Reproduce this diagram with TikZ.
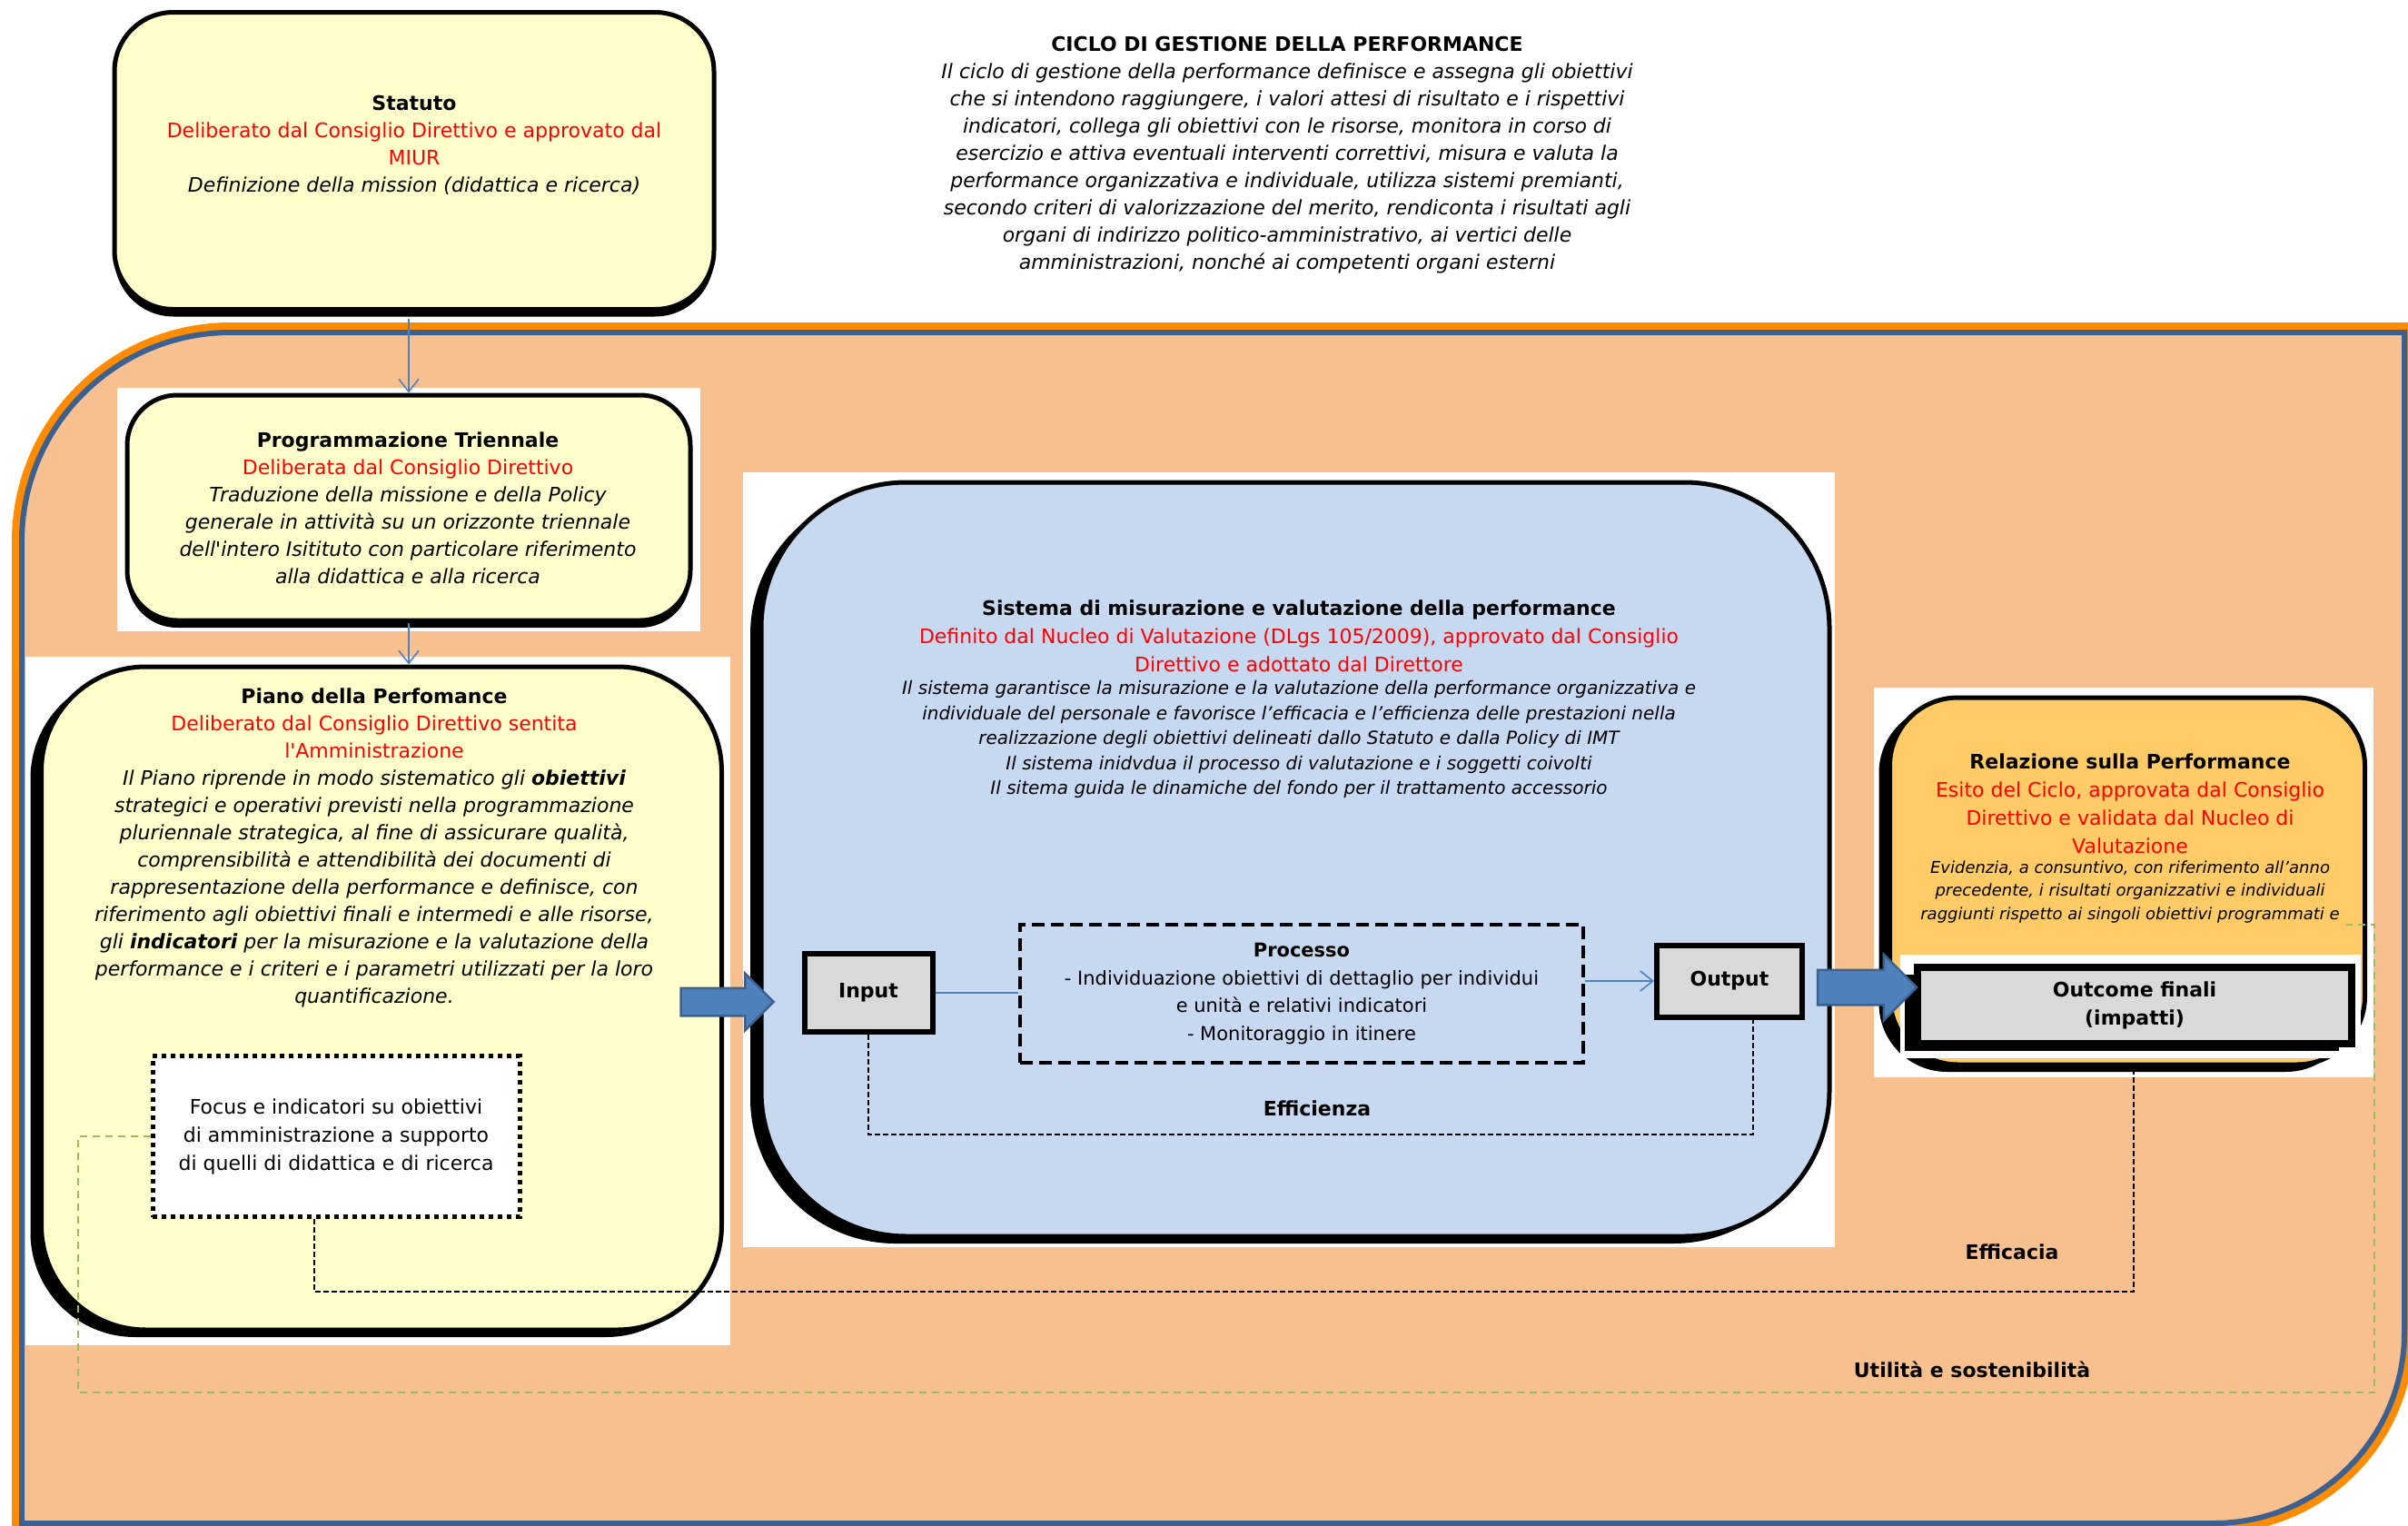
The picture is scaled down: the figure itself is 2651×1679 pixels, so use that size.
\documentclass[tikz,border=0pt]{standalone}
\usepackage{fontspec}
\setmainfont{DejaVu Sans}[Ligatures=TeXOff]
\usepackage{tikz}
\usetikzlibrary{calc, arrows.meta, shapes.arrows, shadows}

\definecolor{giallino}{HTML}{FFFFCC}
\definecolor{pesca}{HTML}{F9C08F}
\definecolor{arancio}{HTML}{FF8C00}
\definecolor{bordoblu}{HTML}{3C6190}
\definecolor{azzurro}{HTML}{C6D9F1}
\definecolor{ocra}{HTML}{FFCB66}
\definecolor{grigino}{HTML}{D9D9D9}
\definecolor{blufreccia}{HTML}{4F81BD}
\definecolor{verdino}{HTML}{9BBB59}

\begin{document}
\begin{tikzpicture}[x=1pt, y=-1pt,
    ombra/.style={drop shadow={shadow xshift=#1, shadow yshift=-8pt, opacity=1, fill=black}},
    ombra/.default=-8pt,
    box/.style={draw=black, line width=5pt, inner sep=0pt},
    testo/.style={align=center, inner sep=0pt, font=\fontsize{22}{30}\selectfont},
    corsivo/.style={testo, font=\fontsize{22}{30}\selectfont\itshape},
    grigio/.style={draw=black, line width=6pt, fill=grigino, inner sep=0pt, align=center, font=\fontsize{22}{31}\selectfont\bfseries},
    freccina/.style={draw=blufreccia, line width=1.6pt},
    punta/.style={-{Straight Barb[length=14pt, width=22pt, line width=1.6pt]}},
    frecciona/.style={single arrow, draw=bordoblu, line width=2.5pt, fill=blufreccia, single arrow tip angle=90, inner sep=0pt},
    tratteggio/.style={draw=black, line width=1.5pt, dash pattern=on 6pt off 3pt},
    etichetta/.style={inner sep=0pt, font=\fontsize{22}{30}\selectfont\bfseries}]

  \useasboundingbox (0,0) rectangle (2651,1679);
  \fill[white] (0,0) rectangle (2651,1679);

  % cornice del ciclo
  \draw[draw=bordoblu, line width=6pt, fill=pesca, preaction={draw=arancio, line width=22pt}]
    (24,1677) -- (24,596) .. controls (24,469) and (127,366) .. (254,366) -- (2647,366)
    -- (2647,1467) .. controls (2647,1583) and (2553,1677) .. (2437,1677) -- cycle;

  % sfondi bianchi
  \fill[white] (129,427) rectangle (771,695);
  \fill[white] (28,723) rectangle (804,1481);
  \fill[white] (818,520) rectangle (2020,1373);
  \fill[white] (2063,757) rectangle (2613,1186);

  % riquadri
  \node[box, ombra=0pt, fill=giallino, rounded corners=65pt, minimum width=660pt, minimum height=327pt] (statuto) at (456,177) {};
  \node[box, ombra=0pt, fill=giallino, rounded corners=55pt, minimum width=620pt, minimum height=248pt] (prog) at (450,559) {};
  \node[box, ombra=-12pt, fill=giallino, rounded corners=115pt, minimum width=749pt, minimum height=730pt] (piano) at (420,1099) {};
  \node[box, ombra=-12pt, fill=azzurro, rounded corners=160pt, minimum width=1176pt, minimum height=830pt] (sistema) at (1426,946) {};
  \node[box, ombra=-12pt, fill=ocra, rounded corners=75pt, minimum width=523pt, minimum height=404pt] (relazione) at (2342,970) {};

  % testi
  \node[corsivo] (titolo) at (1417,171) {\textup{\textbf{CICLO DI GESTIONE DELLA PERFORMANCE}}\\
    Il ciclo di gestione della performance definisce e assegna gli obiettivi\\
    che si intendono raggiungere, i valori attesi di risultato e i rispettivi\\
    indicatori, collega gli obiettivi con le risorse, monitora in corso di\\
    esercizio e attiva eventuali interventi correttivi, misura e valuta la\\
    performance organizzativa e individuale, utilizza sistemi premianti,\\
    secondo criteri di valorizzazione del merito, rendiconta i risultati agli\\
    organi di indirizzo politico-amministrativo, ai vertici delle\\
    amministrazioni, nonché ai competenti organi esterni};
  \node[testo] (statuto-t) at (456,160) {\textbf{Statuto}\\
    \textcolor{red}{Deliberato dal Consiglio Direttivo e approvato dal}\\
    \textcolor{red}{MIUR}\\
    \textit{Definizione della mission (didattica e ricerca)}};
  \node[corsivo] (prog-t) at (449,559) {\textup{\textbf{Programmazione Triennale}}\\
    \textup{\textcolor{red}{Deliberata dal Consiglio Direttivo}}\\
    Traduzione della missione e della Policy\\
    generale in attività su un orizzonte triennale\\
    dell'intero Isitituto con particolare riferimento\\
    alla didattica e alla ricerca};
  \node[corsivo] (piano-t) at (412,933) {\textup{\textbf{Piano della Perfomance}}\\
    \textup{\textcolor{red}{Deliberato dal Consiglio Direttivo sentita}}\\
    \textup{\textcolor{red}{l'Amministrazione}}\\
    Il Piano riprende in modo sistematico gli \textbf{obiettivi}\\
    strategici e operativi previsti nella programmazione\\
    pluriennale strategica, al fine di assicurare qualità,\\
    comprensibilità e attendibilità dei documenti di\\
    rappresentazione della performance e definisce, con\\
    riferimento agli obiettivi finali e intermedi e alle risorse,\\
    gli \textbf{indicatori} per la misurazione e la valutazione della\\
    performance e i criteri e i parametri utilizzati per la loro\\
    quantificazione.};
  \node[testo, draw=black, fill=white, line width=5pt, dash pattern=on 5pt off 5pt, minimum width=404pt, minimum height=177pt, font=\fontsize{22}{31}\selectfont] (focus) at (370,1251) {Focus e indicatori su obiettivi\\
    di amministrazione a supporto\\
    di quelli di didattica e di ricerca};
  \node[testo, font=\fontsize{22}{31}\selectfont] (sistema-t) at (1430,700) {\textbf{Sistema di misurazione e valutazione della performance}\\
    \textcolor{red}{Definito dal Nucleo di Valutazione (DLgs 105/2009), approvato dal Consiglio}\\
    \textcolor{red}{Direttivo e adottato dal Direttore}};
  \node[testo, font=\fontsize{20}{27.5}\selectfont\itshape] (sistema-i) at (1430,814) {Il sistema garantisce la misurazione e la valutazione della performance organizzativa e\\
    individuale del personale e favorisce l’efficacia e l’efficienza delle prestazioni nella\\
    realizzazione degli obiettivi delineati dallo Statuto e dalla Policy di IMT\\
    Il sistema inidvdua il processo di valutazione e i soggetti coivolti\\
    Il sitema guida le dinamiche del fondo per il trattamento accessorio};
  \node[testo, font=\fontsize{22}{31}\selectfont] (relazione-t) at (2345,885) {\textbf{Relazione sulla Performance}\\
    \textcolor{red}{Esito del Ciclo, approvata dal Consiglio}\\
    \textcolor{red}{Direttivo e validata dal Nucleo di}\\
    \textcolor{red}{Valutazione}};
  \node[testo, font=\fontsize{18}{25.5}\selectfont\itshape] (relazione-i) at (2345,982) {Evidenzia, a consuntivo, con riferimento all’anno\\
    precedente, i risultati organizzativi e individuali\\
    raggiunti rispetto ai singoli obiettivi programmati e};

  % input, processo, output
  \node[grigio, minimum width=141pt, minimum height=86pt] (input) at (956,1093) {Input};
  \node[testo, draw=black, line width=4pt, dash pattern=on 14pt off 7pt, minimum width=620pt, minimum height=152pt, font=\fontsize{21}{30.5}\selectfont] (processo) at (1433,1094) {\textbf{Processo}\\
    - Individuazione obiettivi di dettaglio per individui\\
    e unità e relativi indicatori\\
    - Monitoraggio in itinere};
  \node[grigio, minimum width=160pt, minimum height=79pt] (output) at (1904,1080) {Output};
  \fill[white] (2092,1051) rectangle (2599,1165);
  \node[grigio, line width=8pt, ombra=-14pt, minimum width=478pt, minimum height=84pt] (outcome) at (2350,1107) {Outcome finali\\ (impatti)};

  % collegamenti
  \draw[freccina, punta] ([yshift=-8pt]statuto.south -| prog.north) -- (prog.north);
  \draw[freccina, punta] (prog.south) -- (prog.south |- piano.north);
  \draw[freccina] (input.east) -- (input.east -| processo.west);
  \draw[freccina, punta] (processo.east |- output.west) -- (output.west);
  \draw[tratteggio] (input.south) -- ++(0,110) -| ([xshift=26pt]output.south);
  \draw[tratteggio] ([xshift=-24pt]focus.south) -- ++(0,80) -| ([xshift=7pt]relazione.south);
  \coordinate (util-angolo) at (2614,1018);
  \coordinate (util-fine) at (2583,1018);
  \draw[verdino, line width=2pt, dash pattern=on 8pt off 6pt] (focus.west) -- ++(-80,0) -- ++(0,282) -| (util-angolo) -- (util-fine);

  \node[etichetta] (efficienza) at (1450,1220) {Efficienza};
  \node[etichetta] (efficacia) at (2215,1378) {Efficacia};
  \node[etichetta] (utilita) at (2171,1508) {Utilità e sostenibilità};

  % frecce piene
  \node[frecciona, minimum height=102pt, inner ysep=14pt, single arrow head extend=16pt] (freccia-piano) at (793,1103) {};
  \node[frecciona, minimum height=109pt, inner ysep=18pt, single arrow head extend=17pt] (freccia-output) at (2046,1087) {};
\end{tikzpicture}
\end{document}
